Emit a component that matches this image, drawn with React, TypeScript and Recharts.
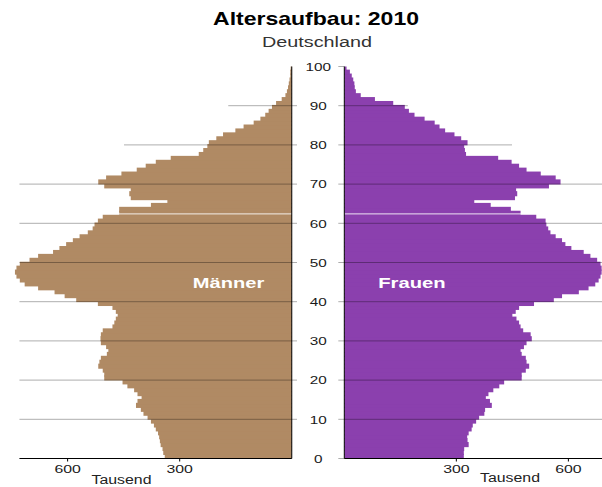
import React from 'react'
import { BarChart, Bar, XAxis, YAxis, ReferenceLine } from 'recharts'

// age 0 .. 99, thousands
const maleValues = [
  340, 344, 346, 351, 353, 355, 358, 364, 369, 377,
  386, 397, 404, 417, 413, 402, 413, 422, 440, 453,
  502, 502, 506, 518, 515, 511, 495, 491, 497, 511,
  512, 511, 506, 480, 475, 471, 466, 471, 480, 519,
  577, 608, 635, 679, 715, 728, 737, 741, 737, 728,
  702, 679, 639, 622, 604, 586, 568, 546, 533, 528,
  519, 506, 462, 462, 377, 333, 431, 435, 431, 502,
  518, 497, 456, 415, 391, 364, 324, 249, 237, 226,
  222, 202, 184, 151, 129, 102, 84, 71, 62, 53,
  42, 27, 17, 13, 10, 8, 6, 4, 4, 3,
]

const femaleValues = [
  320, 320, 321, 333, 330, 329, 333, 341, 344, 353,
  361, 375, 377, 395, 390, 379, 386, 399, 415, 428,
  475, 475, 486, 495, 488, 486, 475, 472, 481, 488,
  502, 499, 479, 472, 468, 461, 450, 459, 468, 508,
  561, 583, 628, 654, 672, 681, 686, 689, 689, 686,
  677, 659, 641, 608, 592, 583, 566, 552, 546, 541,
  539, 514, 472, 446, 392, 348, 457, 463, 460, 548,
  579, 566, 526, 488, 468, 448, 412, 326, 323, 321,
  330, 313, 295, 270, 255, 242, 215, 188, 173, 162,
  131, 82, 44, 31, 28, 27, 24, 20, 15, 6,
]

const ageTicks = [0, 10, 20, 30, 40, 50, 60, 70, 80, 90, 100]
const valueTicks = [300, 600]
// grid lines in the upper part stop short (age -> how far they reach, thousands)
const shortGrid: Record<number, number> = { 90: 170, 80: 449 }
const fullGridAges = [10, 20, 30, 40, 50, 60, 70]
const markerAge = 62.4

const FONT = '"Liberation Sans", Arial, sans-serif'
const MALE = '#B08A64'
const FEMALE = '#8B40AE'
const GRID = 'rgba(0,0,0,0.32)'
const STEP = 392 / 100

const toRows = (vals: number[]) => vals.map((v, i) => ({ mid: i + 0.5, value: v }))
const maleData = toRows(maleValues)
const femaleData = toRows(femaleValues)

// one bar per year of age, drawn a bit thicker so neighbours don't leave seams
const AgeBar = (props: any) => {
  const { x, y, width, height, fill } = props
  if (!width) return null
  const cy = y + height / 2
  const h = STEP + 1.2
  const left = Math.min(x, x + width)
  return <rect x={left} y={cy - h / 2} width={Math.abs(width)} height={h} fill={fill} />
}

function StretchText({ x, y, text, size, per, weight = 'normal', fill = '#1a1a1a' }: any) {
  return (
    <text x={x} y={y} textAnchor="middle" fontFamily={FONT} fontSize={size} fontWeight={weight} fill={fill}
      textLength={per * String(text).length} lengthAdjust="spacingAndGlyphs">
      {text}
    </text>
  )
}

const XTick = (props: any) => (
  <StretchText x={props.x} y={props.y + 9.5} text={props.payload.value} size={11.5} per={8.8} />
)

const YTick = (props: any) => (
  <StretchText x={props.x - 18} y={props.y + 4.2} text={props.payload.value} size={11.5} per={8.5} />
)

export default function App() {
  return (
    <div style={{ position: 'absolute', left: 0, top: 0, width: 602, height: 487, background: '#fff', overflow: 'hidden' }}>
      <div style={{ position: 'absolute', left: 0, top: 0 }}>
        <BarChart width={297} height={487} layout="vertical" data={maleData} barSize={STEP}
          margin={{ top: 66.5, right: 0, bottom: 0, left: 0 }}>
          <XAxis type="number" dataKey="value" domain={[-14, 781]} reversed allowDataOverflow ticks={valueTicks}
            height={28.5} axisLine={false} tickSize={3} tickMargin={2} tickLine={{ stroke: '#000' }} tick={<XTick />} />
          <YAxis type="number" dataKey="mid" domain={[0, 100]} reversed allowDataOverflow hide />
          <Bar dataKey="value" fill={MALE} shape={<AgeBar />} isAnimationActive={false} />
          {fullGridAges.map(a => (
            <ReferenceLine key={a} segment={[{ x: -14, y: a }, { x: 729, y: a }]} stroke={GRID} ifOverflow="visible" />
          ))}
          {Object.entries(shortGrid).map(([a, v]) => (
            <ReferenceLine key={a} segment={[{ x: -14, y: +a }, { x: v, y: +a }]} stroke={GRID} ifOverflow="visible" />
          ))}
          <ReferenceLine y={markerAge} stroke="rgba(255,255,255,0.85)" />
          <ReferenceLine segment={[{ x: 0, y: 0 }, { x: 0, y: 100 }]} stroke="#000" />
          <ReferenceLine segment={[{ x: 0, y: 0 }, { x: 729, y: 0 }]} stroke="#000" />
        </BarChart>
      </div>
      <div style={{ position: 'absolute', left: 292, top: 0 }}>
        <BarChart width={310} height={487} layout="vertical" data={femaleData} barSize={STEP}
          margin={{ top: 66.5, right: 0, bottom: 0, left: 0 }}>
          <XAxis type="number" dataKey="value" domain={[0, 690]} allowDataOverflow ticks={valueTicks}
            height={28.5} axisLine={{ stroke: '#000' }} tickSize={3} tickMargin={2} tickLine={{ stroke: '#000' }} tick={<XTick />} />
          <YAxis type="number" dataKey="mid" domain={[0, 100]} reversed allowDataOverflow ticks={ageTicks} width={52.3}
            axisLine={{ stroke: '#000' }} tickSize={6} tickMargin={2} tickLine={{ stroke: GRID }} tick={<YTick />} />
          <Bar dataKey="value" fill={FEMALE} shape={<AgeBar />} isAnimationActive={false} />
          {fullGridAges.map(a => (
            <ReferenceLine key={a} y={a} stroke={GRID} />
          ))}
          {Object.entries(shortGrid).map(([a, v]) => (
            <ReferenceLine key={a} segment={[{ x: 0, y: +a }, { x: v, y: +a }]} stroke={GRID} />
          ))}
          <ReferenceLine y={markerAge} stroke="rgba(255,255,255,0.85)" />
        </BarChart>
      </div>
      <svg width={602} height={487} style={{ position: 'absolute', left: 0, top: 0, pointerEvents: 'none' }}>
        <StretchText x={316} y={25} text="Altersaufbau: 2010" size={19} per={206 / 18} weight="bold" fill="#000" />
        <StretchText x={317} y={46.5} text="Deutschland" size={14} per={110 / 11} fill="#333" />
        <StretchText x={228.5} y={287.5} text="Männer" size={15.5} per={71.5 / 6} weight="bold" fill="#fff" />
        <StretchText x={412} y={287.5} text="Frauen" size={15.5} per={67.5 / 6} weight="bold" fill="#fff" />
        <StretchText x={121.5} y={483.5} text="Tausend" size={12} per={60 / 7} fill="#222" />
        <StretchText x={510} y={482} text="Tausend" size={12} per={60 / 7} fill="#222" />
      </svg>
    </div>
  )
}
